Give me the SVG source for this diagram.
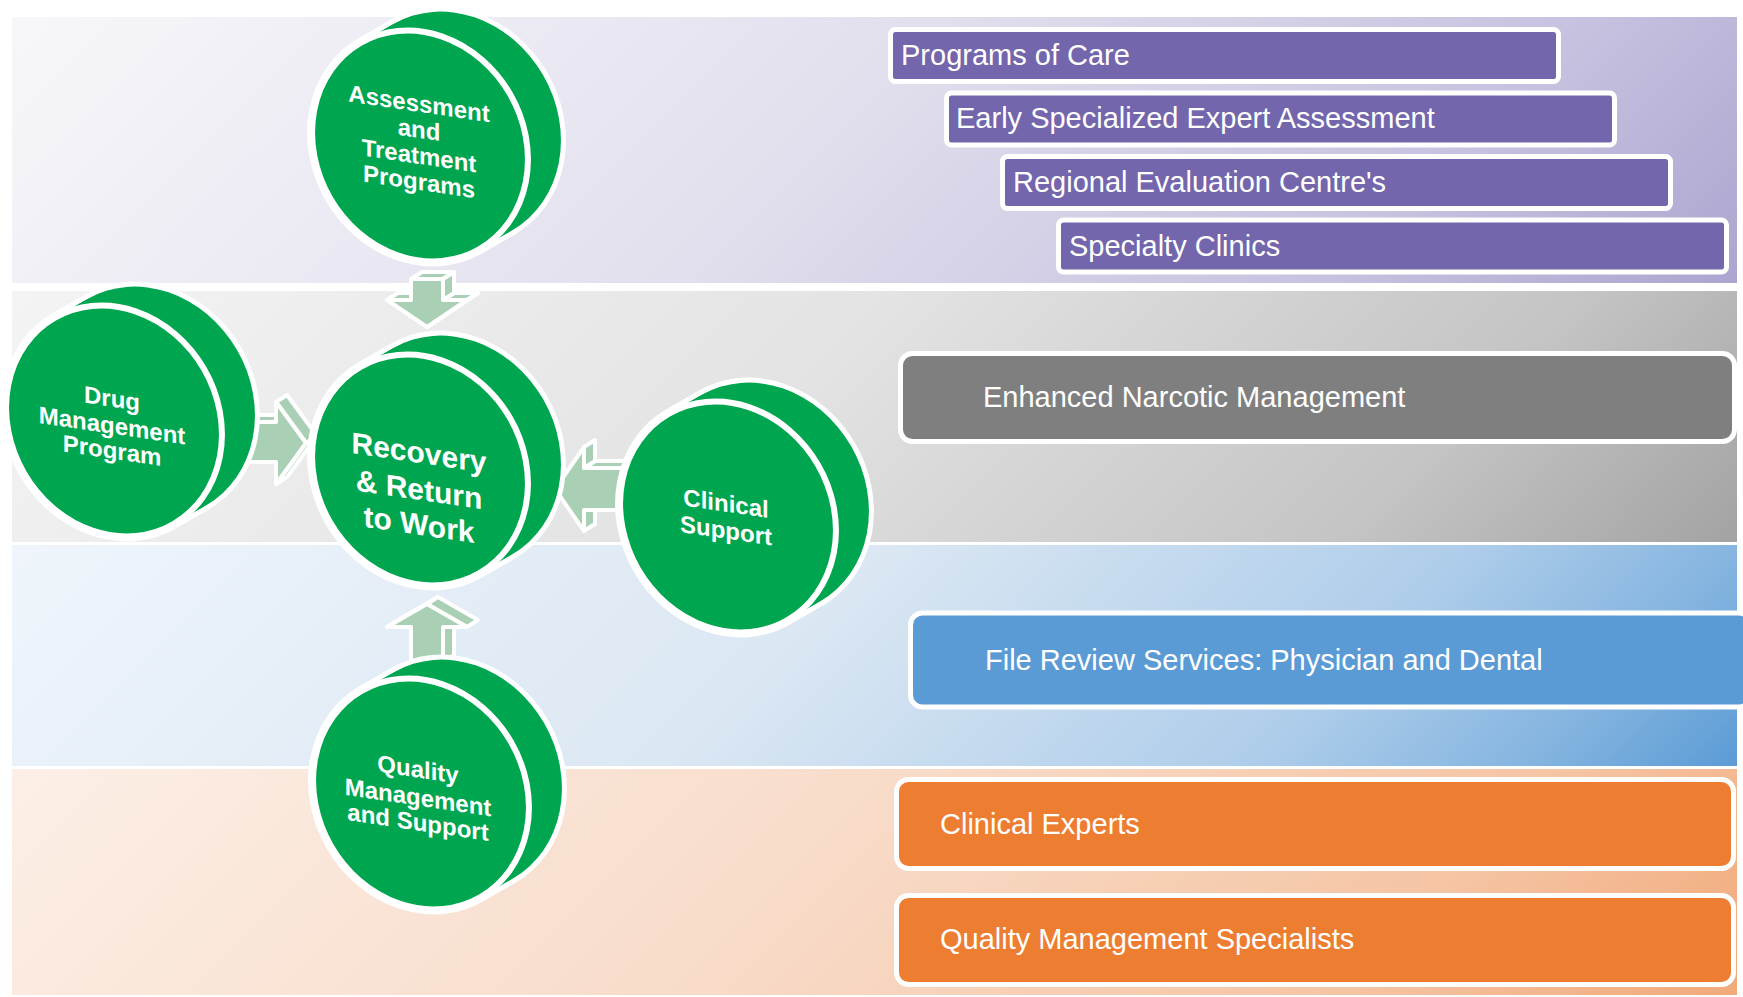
<svg xmlns="http://www.w3.org/2000/svg" width="1743" height="997" viewBox="0 0 1743 997">
<style>
.pbox{fill:#7366ad;stroke:#fff;stroke-width:5}
.gbox{fill:#7f7f7f;stroke:#fff;stroke-width:5}
.bbox{fill:#5b9bd5;stroke:#fff;stroke-width:5}
.obox{fill:#ed7d31;stroke:#fff;stroke-width:5}
.lbl{font-family:"Liberation Sans",Arial,sans-serif;font-size:29px;fill:#fff}
.dt{font-family:"Liberation Sans",Arial,sans-serif;font-weight:bold;font-size:24px;fill:#fff;text-anchor:middle}
.big{font-size:30px}
.arr polygon{fill:#a9d0b4;stroke:#fff;stroke-width:4;stroke-linejoin:round}
.ol{fill:#fff;stroke:#fff;stroke-width:10}
.fl{fill:#00a54f}
.face{fill:#00a54f;stroke:#fff;stroke-width:6}
</style>
<defs>
<linearGradient id="g1" gradientUnits="userSpaceOnUse" x1="12" y1="17" x2="1007" y2="1012">
<stop offset="0" stop-color="#f7f7fa"/><stop offset="0.45" stop-color="#e3e0ee"/><stop offset="0.8" stop-color="#c6c1df"/><stop offset="1" stop-color="#aca5d0"/>
</linearGradient>
<linearGradient id="g2" gradientUnits="userSpaceOnUse" x1="12" y1="291" x2="999" y2="1278">
<stop offset="0" stop-color="#f4f4f4"/><stop offset="0.45" stop-color="#e3e3e3"/><stop offset="0.8" stop-color="#c4c4c4"/><stop offset="1" stop-color="#a3a3a3"/>
</linearGradient>
<linearGradient id="g3" gradientUnits="userSpaceOnUse" x1="12" y1="545" x2="985" y2="1518">
<stop offset="0" stop-color="#eff5fb"/><stop offset="0.45" stop-color="#dbe7f3"/><stop offset="0.75" stop-color="#aecdea"/><stop offset="0.9" stop-color="#82b3df"/><stop offset="1" stop-color="#5b9bd5"/>
</linearGradient>
<linearGradient id="g4" gradientUnits="userSpaceOnUse" x1="12" y1="769" x2="987" y2="1744">
<stop offset="0" stop-color="#fcefe7"/><stop offset="0.45" stop-color="#f8dcca"/><stop offset="0.8" stop-color="#f5c4a3"/><stop offset="1" stop-color="#f1a97a"/>
</linearGradient>
<ellipse id="dsk" cx="0" cy="0" rx="104" ry="119" transform="rotate(-30)"/>
<g id="stack">
<use href="#dsk"/>
<use href="#dsk" x="4.125" y="-2.375"/>
<use href="#dsk" x="8.25" y="-4.75"/>
<use href="#dsk" x="12.375" y="-7.125"/>
<use href="#dsk" x="16.5" y="-9.5"/>
<use href="#dsk" x="20.625" y="-11.875"/>
<use href="#dsk" x="24.75" y="-14.25"/>
<use href="#dsk" x="28.875" y="-16.625"/>
<use href="#dsk" x="33" y="-19"/>
</g>
</defs>
<rect width="1743" height="997" fill="#fff"/>
<g id="bands">
<rect x="12" y="17" width="1725" height="266" fill="url(#g1)"/>
<rect x="12" y="291" width="1725" height="251" fill="url(#g2)"/>
<rect x="12" y="545" width="1725" height="221" fill="url(#g3)"/>
<rect x="12" y="769" width="1725" height="226" fill="url(#g4)"/>
</g>
<g id="box-programs"><rect class="pbox" x="890.5" y="29.5" width="668" height="52" rx="5"/><text class="lbl" x="901" y="65">Programs of Care</text></g>
<g id="box-early"><rect class="pbox" x="946.5" y="93" width="668" height="52" rx="5"/><text class="lbl" x="956" y="128">Early Specialized Expert Assessment</text></g>
<g id="box-regional"><rect class="pbox" x="1002.5" y="156.5" width="668" height="52" rx="5"/><text class="lbl" x="1013" y="192">Regional Evaluation Centre's</text></g>
<g id="box-specialty"><rect class="pbox" x="1058.5" y="220" width="668" height="52" rx="5"/><text class="lbl" x="1069" y="256">Specialty Clinics</text></g>
<g id="box-narcotic"><rect class="gbox" x="900.5" y="353.5" width="834" height="88" rx="12"/><text class="lbl" x="983" y="407">Enhanced Narcotic Management</text></g>
<g id="box-filereview"><rect class="bbox" x="910.5" y="613" width="840" height="94" rx="12"/><text class="lbl" x="985" y="670">File Review Services: Physician and Dental</text></g>
<g id="box-clinicalexperts"><rect class="obox" x="896.5" y="779.5" width="837" height="89" rx="12"/><text class="lbl" x="940" y="834">Clinical Experts</text></g>
<g id="box-qms"><rect class="obox" x="896.5" y="895.5" width="837" height="89" rx="12"/><text class="lbl" x="940" y="949">Quality Management Specialists</text></g>
<g id="connectors">
<g class="arr" id="arrow-top">
<polygon points="387,300 411,300 422,293 398,293"/>
<polygon points="443,300 467,300 478,293 454,293"/>
<polygon points="467,300 427,327 438,320 478,293"/>
<polygon points="411,279 443,279 454,272 422,272"/>
<polygon points="443,279 454,272 454,293 443,300"/>
<polygon points="411,279 443,279 443,300 467,300 427,327 387,300 411,300"/>
</g>
<g class="arr" id="arrow-bottom">
<polygon points="387,627 427,604 438,597 398,620"/>
<polygon points="427,604 467,627 478,620 438,597"/>
<polygon points="443,627 443,662 454,655 454,620"/>
<polygon points="427,604 467,627 443,627 443,662 411,662 411,627 387,627"/>
</g>
<g class="arr" id="arrow-left">
<polygon points="240,422 276,422 287,415 251,415"/>
<polygon points="306,443 276,484 287,477 317,436"/>
<polygon points="276,402 306,443 317,436 287,395"/>
<polygon points="240,422 276,422 276,402 306,443 276,484 276,462 240,462"/>
</g>
<g class="arr" id="arrow-right">
<polygon points="584,510 584,531 595,524 595,503"/>
<polygon points="584,468 645,468 656,461 595,461"/>
<polygon points="584,447 584,468 595,461 595,440"/>
<polygon points="555,489 584,447 584,468 645,468 645,510 584,510 584,531"/>
</g>
</g>
<g id="node-assessment" transform="translate(420,146)">
<use href="#stack" class="ol"/><use href="#stack" class="fl"/><use href="#dsk" class="face"/>
<g transform="skewY(8.4)"><text class="dt" x="-1" y="-34">Assessment</text><text class="dt" x="-1" y="-8">and</text><text class="dt" x="-1" y="18">Treatment</text><text class="dt" x="-1" y="44">Programs</text></g>
</g>
<g id="node-drug" transform="translate(114,421)">
<use href="#stack" class="ol"/><use href="#stack" class="fl"/><use href="#dsk" class="face"/>
<g transform="skewY(8.4)"><text class="dt" x="-2" y="-14">Drug</text><text class="dt" x="-2" y="13">Management</text><text class="dt" x="-2" y="38">Program</text></g>
</g>
<g id="node-recovery" transform="translate(420,470)">
<use href="#stack" class="ol"/><use href="#stack" class="fl"/><use href="#dsk" class="face"/>
<g transform="skewY(8.4)"><text class="dt big" x="-1" y="-7">Recovery</text><text class="dt big" x="-1" y="30">&amp; Return</text><text class="dt big" x="-1" y="65">to Work</text></g>
</g>
<g id="node-clinical" transform="translate(728,517)">
<use href="#stack" class="ol"/><use href="#stack" class="fl"/><use href="#dsk" class="face"/>
<g transform="skewY(8.4)"><text class="dt" x="-2" y="-5">Clinical</text><text class="dt" x="-2" y="22">Support</text></g>
</g>
<g id="node-quality" transform="translate(421,794)">
<use href="#stack" class="ol"/><use href="#stack" class="fl"/><use href="#dsk" class="face"/>
<g transform="skewY(8.4)"><text class="dt" x="-3" y="-16">Quality</text><text class="dt" x="-3" y="12">Management</text><text class="dt" x="-3" y="37">and Support</text></g>
</g>
</svg>
